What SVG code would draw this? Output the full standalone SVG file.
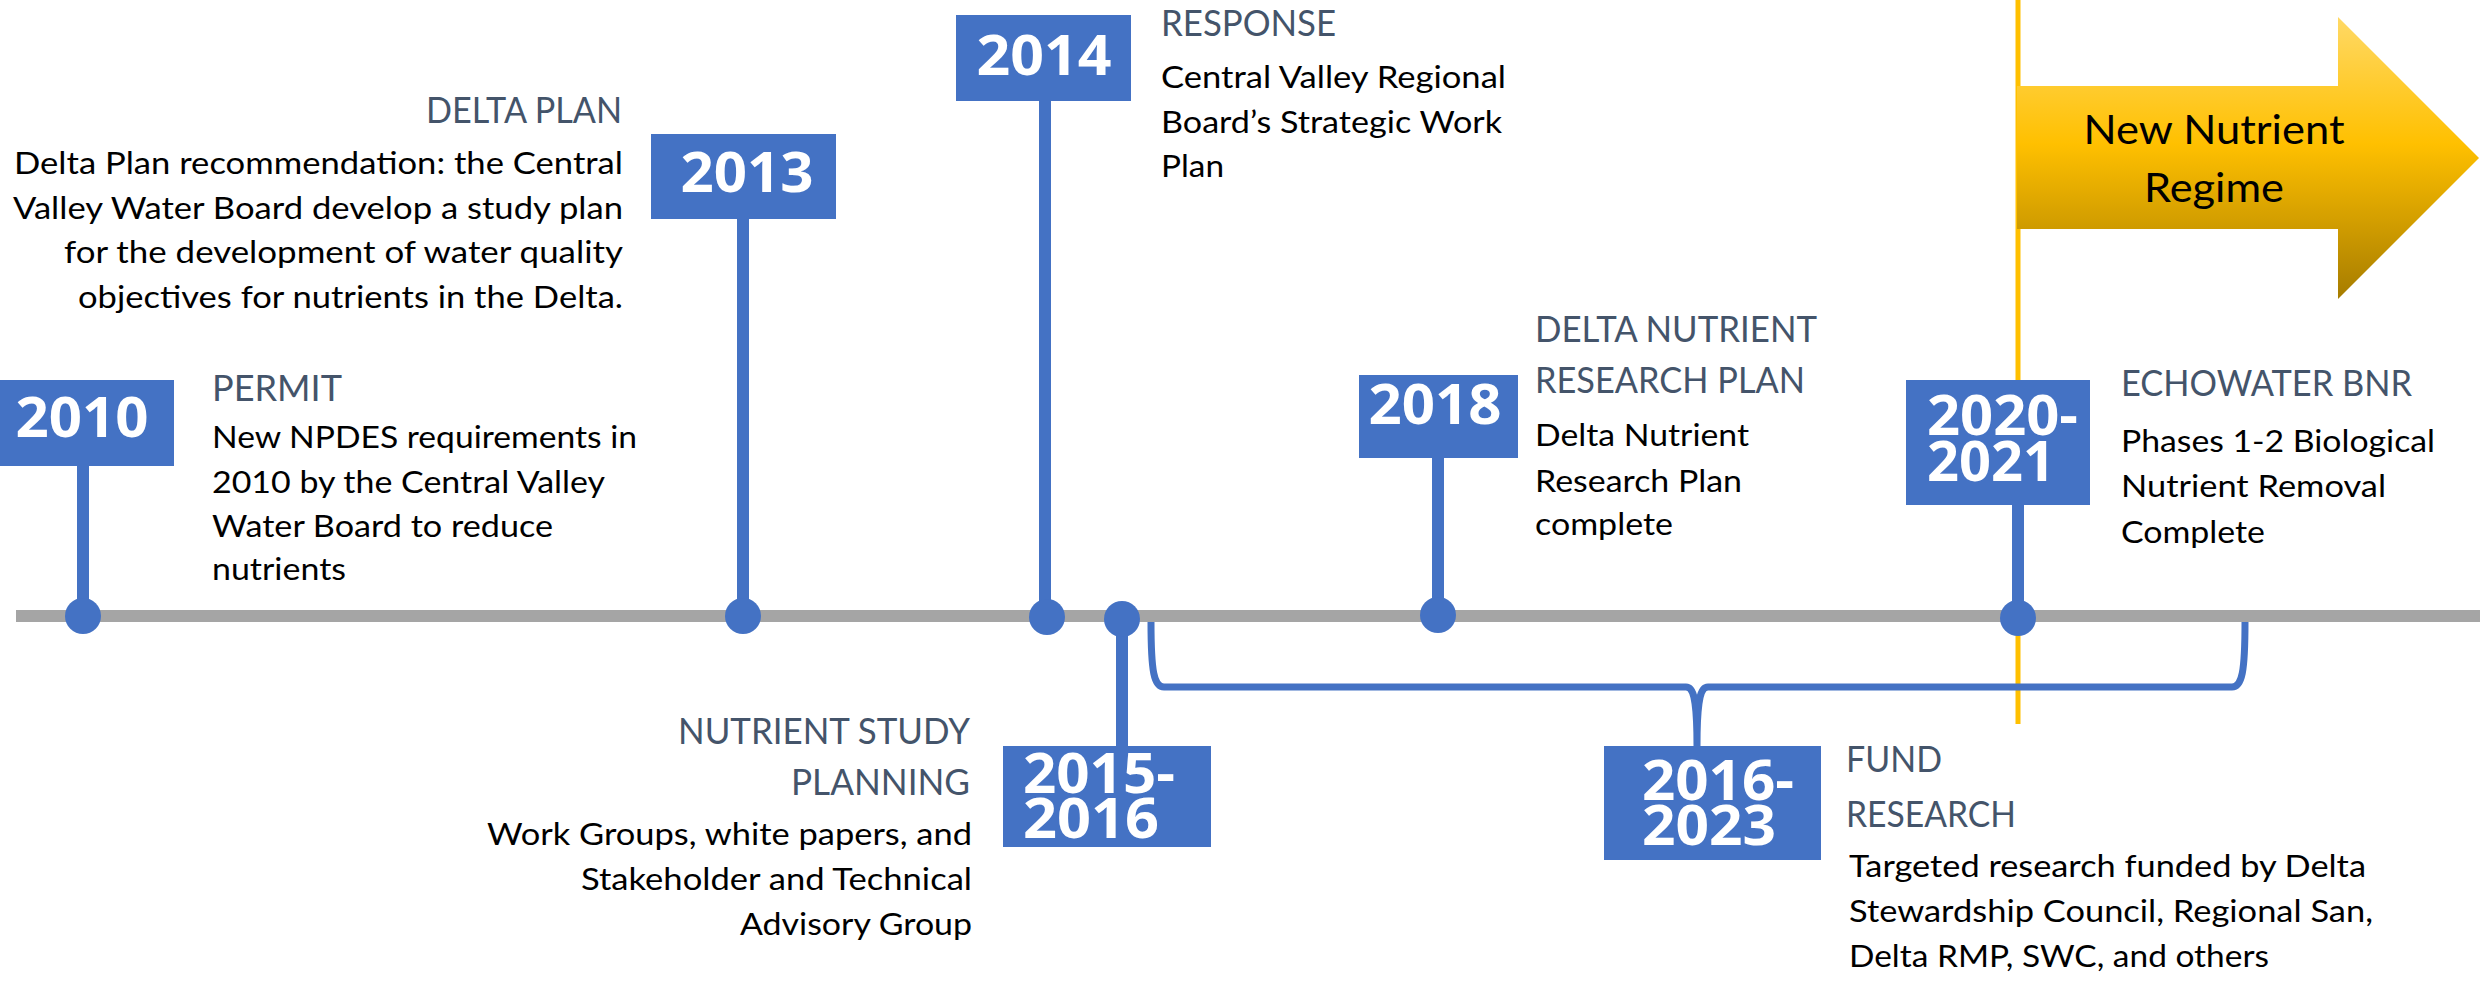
<svg xmlns="http://www.w3.org/2000/svg" width="2484" height="981" viewBox="0 0 2484 981">
  <defs>
    <linearGradient id="gold" x1="0" y1="0" x2="0" y2="1">
      <stop offset="0" stop-color="#FFD966"/>
      <stop offset="0.45" stop-color="#FFC000"/>
      <stop offset="1" stop-color="#A67C00"/>
    </linearGradient>
    <style>
      .box { fill: #4472C4; }
      .stem { stroke: #4472C4; stroke-width: 12; fill: none; }
      .dot { fill: #4472C4; }
      .yr { font-family: "Open Sans", "DejaVu Sans", sans-serif; font-weight: 700; font-size: 55px; fill: #FFFFFF; }
      .hd { font-family: Lato, "Open Sans", sans-serif; font-size: 37px; fill: #44546A; }
      .bd { font-family: Lato, "Open Sans", sans-serif; font-size: 31px; fill: #000000; }
      .arrowtxt { font-family: Lato, "Open Sans", sans-serif; font-size: 40px; fill: #000000; }
    </style>
  </defs>

  <!-- background -->
  <rect width="2484" height="981" fill="#FFFFFF"/>

  <!-- "now" marker and the regime arrow -->
  <g id="new-regime">
    <line x1="2018" y1="0" x2="2018" y2="724" stroke="#FFC000" stroke-width="5"/>
    <polygon points="2017,86 2338,86 2338,17 2479,158 2338,299 2338,229 2017,229" fill="url(#gold)"/>
    <text class="arrowtxt" x="2214" y="144" text-anchor="middle" textLength="261" lengthAdjust="spacingAndGlyphs">New Nutrient</text>
    <text class="arrowtxt" x="2214" y="202" text-anchor="middle" textLength="140" lengthAdjust="spacingAndGlyphs">Regime</text>
  </g>

  <!-- timeline axis and connectors -->
  <g id="connectors">
    <line x1="16" y1="616" x2="2480" y2="616" stroke="#A5A5A5" stroke-width="12"/>
    <line class="stem" x1="83" y1="466" x2="83" y2="616"/>
    <line class="stem" x1="743" y1="219" x2="743" y2="616"/>
    <line class="stem" x1="1045" y1="101" x2="1045" y2="616"/>
    <line class="stem" x1="1122" y1="619" x2="1122" y2="746"/>
    <line class="stem" x1="1438" y1="458" x2="1438" y2="616"/>
    <line class="stem" x1="2018" y1="505" x2="2018" y2="618"/>
    <!-- brace spanning the research funding period -->
    <path d="M1151,622 C1151,672 1154,687 1164,687 L1686,687 C1694,687 1697,700 1697,746 M1697,746 C1697,700 1700,687 1708,687 L2232,687 C2242,687 2245,672 2245,622" fill="none" stroke="#4472C4" stroke-width="7"/>
  </g>

  <!-- 2010 -->
  <g id="node-2010">
    <rect class="box" x="0" y="380" width="174" height="86"/>
    <text class="yr" x="82" y="437" text-anchor="middle" textLength="133" lengthAdjust="spacingAndGlyphs">2010</text>
    <circle class="dot" cx="83" cy="616" r="18"/>
    <text class="hd" x="212" y="401" textLength="130" lengthAdjust="spacingAndGlyphs">PERMIT</text>
    <text class="bd" x="212" y="448" textLength="425" lengthAdjust="spacingAndGlyphs">New NPDES requirements in</text>
    <text class="bd" x="212" y="493" textLength="393" lengthAdjust="spacingAndGlyphs">2010 by the Central Valley</text>
    <text class="bd" x="212" y="537" textLength="341" lengthAdjust="spacingAndGlyphs">Water Board to reduce</text>
    <text class="bd" x="212" y="580" textLength="134" lengthAdjust="spacingAndGlyphs">nutrients</text>
  </g>

  <!-- 2013 -->
  <g id="node-2013">
    <rect class="box" x="651" y="134" width="185" height="85"/>
    <text class="yr" x="747" y="192" text-anchor="middle" textLength="133" lengthAdjust="spacingAndGlyphs">2013</text>
    <circle class="dot" cx="743" cy="616" r="18"/>
    <text class="hd" x="622" y="123" text-anchor="end" textLength="196" lengthAdjust="spacingAndGlyphs">DELTA PLAN</text>
    <text class="bd" x="623" y="174" text-anchor="end" textLength="609" lengthAdjust="spacingAndGlyphs">Delta Plan recommendation: the Central</text>
    <text class="bd" x="623" y="219" text-anchor="end" textLength="610" lengthAdjust="spacingAndGlyphs">Valley Water Board develop a study plan</text>
    <text class="bd" x="623" y="263" text-anchor="end" textLength="559" lengthAdjust="spacingAndGlyphs">for the development of water quality</text>
    <text class="bd" x="623" y="308" text-anchor="end" textLength="545" lengthAdjust="spacingAndGlyphs">objectives for nutrients in the Delta.</text>
  </g>

  <!-- 2014 -->
  <g id="node-2014">
    <rect class="box" x="956" y="15" width="175" height="86"/>
    <text class="yr" x="1044" y="75" text-anchor="middle" textLength="135" lengthAdjust="spacingAndGlyphs">2014</text>
    <circle class="dot" cx="1047" cy="617" r="18"/>
    <text class="hd" x="1161" y="36" textLength="175" lengthAdjust="spacingAndGlyphs">RESPONSE</text>
    <text class="bd" x="1161" y="88" textLength="345" lengthAdjust="spacingAndGlyphs">Central Valley Regional</text>
    <text class="bd" x="1161" y="133" textLength="341" lengthAdjust="spacingAndGlyphs">Board’s Strategic Work</text>
    <text class="bd" x="1161" y="177" textLength="63" lengthAdjust="spacingAndGlyphs">Plan</text>
  </g>

  <!-- 2015-2016 -->
  <g id="node-2015-2016">
    <circle class="dot" cx="1122" cy="619" r="18"/>
    <rect class="box" x="1003" y="746" width="208" height="101"/>
    <text class="yr"><tspan x="1023" y="793" textLength="152" lengthAdjust="spacingAndGlyphs">2015-</tspan><tspan x="1023" y="838" textLength="136" lengthAdjust="spacingAndGlyphs">2016</tspan></text>
    <text class="hd" x="970" y="744" text-anchor="end" textLength="292" lengthAdjust="spacingAndGlyphs">NUTRIENT STUDY</text>
    <text class="hd" x="970" y="795" text-anchor="end" textLength="179" lengthAdjust="spacingAndGlyphs">PLANNING</text>
    <text class="bd" x="972" y="845" text-anchor="end" textLength="485" lengthAdjust="spacingAndGlyphs">Work Groups, white papers, and</text>
    <text class="bd" x="972" y="890" text-anchor="end" textLength="391" lengthAdjust="spacingAndGlyphs">Stakeholder and Technical</text>
    <text class="bd" x="972" y="935" text-anchor="end" textLength="232" lengthAdjust="spacingAndGlyphs">Advisory Group</text>
  </g>

  <!-- 2016-2023 -->
  <g id="node-2016-2023">
    <rect class="box" x="1604" y="746" width="217" height="114"/>
    <text class="yr"><tspan x="1642" y="800" textLength="152" lengthAdjust="spacingAndGlyphs">2016-</tspan><tspan x="1642" y="845" textLength="134" lengthAdjust="spacingAndGlyphs">2023</tspan></text>
    <text class="hd" x="1846" y="772" textLength="96" lengthAdjust="spacingAndGlyphs">FUND</text>
    <text class="hd" x="1846" y="827" textLength="170" lengthAdjust="spacingAndGlyphs">RESEARCH</text>
    <text class="bd" x="1849" y="877" textLength="517" lengthAdjust="spacingAndGlyphs">Targeted research funded by Delta</text>
    <text class="bd" x="1849" y="922" textLength="524" lengthAdjust="spacingAndGlyphs">Stewardship Council, Regional San,</text>
    <text class="bd" x="1849" y="967" textLength="420" lengthAdjust="spacingAndGlyphs">Delta RMP, SWC, and others</text>
  </g>

  <!-- 2018 -->
  <g id="node-2018">
    <rect class="box" x="1359" y="375" width="159" height="83"/>
    <text class="yr" x="1435" y="424" text-anchor="middle" textLength="133" lengthAdjust="spacingAndGlyphs">2018</text>
    <circle class="dot" cx="1438" cy="615" r="18"/>
    <text class="hd" x="1535" y="342" textLength="282" lengthAdjust="spacingAndGlyphs">DELTA NUTRIENT</text>
    <text class="hd" x="1535" y="393" textLength="270" lengthAdjust="spacingAndGlyphs">RESEARCH PLAN</text>
    <text class="bd" x="1535" y="446" textLength="214" lengthAdjust="spacingAndGlyphs">Delta Nutrient</text>
    <text class="bd" x="1535" y="492" textLength="207" lengthAdjust="spacingAndGlyphs">Research Plan</text>
    <text class="bd" x="1535" y="535" textLength="138" lengthAdjust="spacingAndGlyphs">complete</text>
  </g>

  <!-- 2020-2021 -->
  <g id="node-2020-2021">
    <rect class="box" x="1906" y="380" width="184" height="125"/>
    <text class="yr"><tspan x="1927" y="435" textLength="151" lengthAdjust="spacingAndGlyphs">2020-</tspan><tspan x="1927" y="481" textLength="128" lengthAdjust="spacingAndGlyphs">2021</tspan></text>
    <circle class="dot" cx="2018" cy="618" r="18"/>
    <text class="hd" x="2121" y="396" textLength="291" lengthAdjust="spacingAndGlyphs">ECHOWATER BNR</text>
    <text class="bd" x="2121" y="452" textLength="314" lengthAdjust="spacingAndGlyphs">Phases 1-2 Biological</text>
    <text class="bd" x="2121" y="497" textLength="265" lengthAdjust="spacingAndGlyphs">Nutrient Removal</text>
    <text class="bd" x="2121" y="543" textLength="144" lengthAdjust="spacingAndGlyphs">Complete</text>
  </g>
</svg>
